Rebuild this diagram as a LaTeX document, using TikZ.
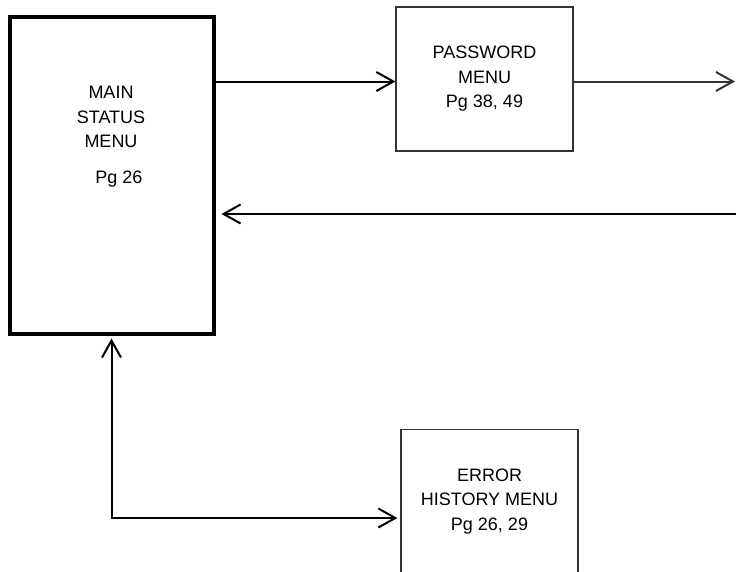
\documentclass[tikz,border=0pt]{standalone}
\usepackage{fontspec}
\setmainfont{Liberation Sans}
\usetikzlibrary{arrows.meta}

\begin{document}
\begin{tikzpicture}[x=1pt, y=-1pt,
  arr/.tip={Straight Barb[length=17pt, width=19pt]},
  txt/.style={inner sep=0pt, align=center, font=\fontsize{18}{24.5}\selectfont},
  menu/.style={txt, draw=black!80, line width=1.2pt, rectangle, minimum width=177pt, minimum height=144pt},
  link/.style={line width=2pt, -arr}]
\useasboundingbox (0,0) rectangle (736,571);
\node[draw, line width=4pt, rectangle, minimum width=204pt, minimum height=317pt, inner sep=0pt] (main) at (111.5,175.5) {};
\node[txt] (mainname) at (111,117) {MAIN\\STATUS\\MENU};
\node[txt, anchor=base] (mainpg) at (119,183) {Pg 26};
\node[menu] (pwd) at (484.5,79) {PASSWORD\\MENU\\Pg 38, 49};
\node[menu] (err) at (489.5,501.5) {ERROR\\HISTORY MENU\\Pg 26, 29};
\coordinate (pwdout) at (735,81.5);
\coordinate (mainin) at (745,214);
\draw[link] (main.east |- pwdout) -- (pwd.west |- pwdout);
\draw[link, draw=black!80] (pwd.east |- pwdout) -- (pwdout);
\draw[link, shorten >=6pt] (mainin) -- (mainin -| main.east);
\draw[link, arr-arr, shorten <=2.5pt, shorten >=3pt] (main.south) |- ([yshift=-16.5pt]err.west);
\end{tikzpicture}
\end{document}
